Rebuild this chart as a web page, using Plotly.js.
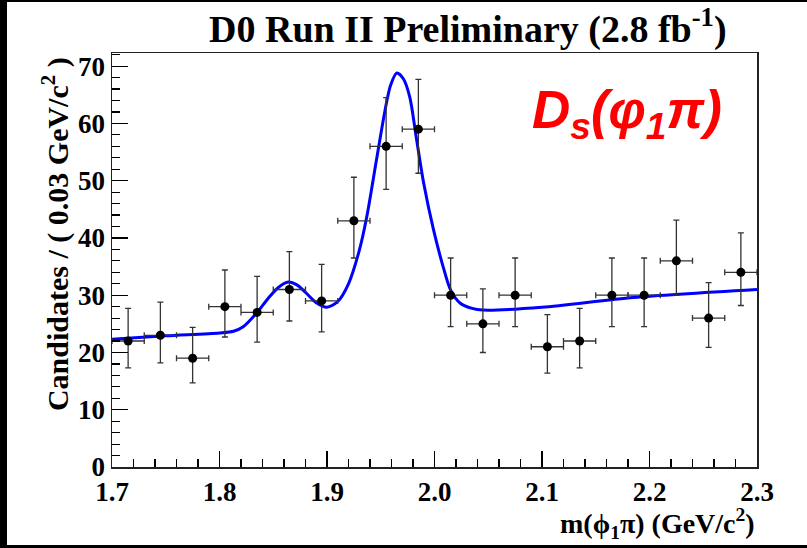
<!DOCTYPE html>
<html>
<head>
<meta charset="utf-8">
<script src="https://cdn.plot.ly/plotly-3.0.1.min.js"></script>
<style>
  html, body { margin: 0; padding: 0; background: #000; width: 807px; height: 548px; overflow: hidden; }
  #chart { position: absolute; left: 7px; top: 2px; width: 800px; height: 543px; background: #fff; }
</style>
</head>
<body>
<div id="chart"></div>
<script>
// Bin centres (GeV/c^2), 0.03 GeV bins
const binCenters = [1.715, 1.745, 1.775, 1.805, 1.835, 1.865, 1.895, 1.925, 1.955, 1.985,
                    2.015, 2.045, 2.075, 2.105, 2.135, 2.165, 2.195, 2.225, 2.255, 2.285];
// Candidates per bin
const counts = [22, 23, 19, 28, 27, 31, 29, 43, 56, 59,
                30, 25, 30, 21, 22, 30, 30, 36, 26, 34];
// Asymmetric (Poisson) errors
const errUp = [5.7, 5.8, 5.4, 6.4, 6.3, 6.6, 6.4, 7.6, 8.5, 8.7,
               6.5, 6.1, 6.5, 5.6, 5.7, 6.5, 6.5, 7.1, 6.2, 6.9];
const errDown = [4.7, 4.8, 4.3, 5.3, 5.2, 5.5, 5.4, 6.5, 7.5, 7.7,
                 5.5, 5.0, 5.5, 4.6, 4.7, 5.5, 5.5, 6.0, 5.1, 5.8];
const binHalfWidth = 0.015;

// Fit curve
const fitX = [1.70, 1.75, 1.80, 1.813, 1.822, 1.835, 1.845, 1.855, 1.864, 1.872, 1.880, 1.890, 1.900,
              1.910, 1.920, 1.930, 1.937, 1.946, 1.954, 1.959, 1.965, 1.971, 1.977, 1.983, 1.990,
              1.999, 2.008, 2.015, 2.024, 2.035, 2.045, 2.10, 2.185, 2.30];
const fitY = [22.3, 22.9, 23.4, 23.7, 24.5, 27.0, 29.4, 31.4, 32.3, 31.8, 30.5, 28.7, 27.9,
              28.9, 32.0, 37.8, 43.7, 53.6, 62.3, 66.6, 68.8, 67.8, 64.6, 57.6, 49.5,
              41.5, 35.0, 30.9, 28.6, 27.7, 27.4, 27.9, 29.6, 31.0];

const xTickVals = [1.7, 1.8, 1.9, 2.0, 2.1, 2.2, 2.3];
const yTickVals = [0, 10, 20, 30, 40, 50, 60, 70];

const serif = '"Liberation Serif", "Times New Roman", serif';

const traces = [
  {
    x: fitX, y: fitY, type: 'scatter', mode: 'lines',
    line: { color: '#0000ff', width: 3, shape: 'spline', smoothing: 0.8 },
    hoverinfo: 'skip', showlegend: false
  },
  {
    x: binCenters, y: counts, type: 'scatter', mode: 'markers',
    marker: { color: '#000', size: 9, symbol: 'circle' },
    error_y: { type: 'data', symmetric: false, array: errUp, arrayminus: errDown,
               color: '#333', thickness: 1.3, width: 3 },
    error_x: { type: 'constant', value: binHalfWidth, color: '#333', thickness: 1.3, width: 3 },
    showlegend: false
  }
];

const layout = {
  width: 800, height: 543,
  margin: { l: 105, r: 50, t: 51, b: 78 },
  paper_bgcolor: '#fff', plot_bgcolor: '#fff',
  showlegend: false,
  title: {
    text: 'D0 Run II Preliminary (2.8 fb<sup>-1</sup>)',
    font: { family: serif, size: 38, color: '#000', weight: 'bold' },
    x: 0.576, xanchor: 'center', xref: 'container',
    y: 0.951, yanchor: 'middle', yref: 'container'
  },
  xaxis: {
    range: [1.7, 2.3],
    tickmode: 'array', tickvals: xTickVals, tickformat: '.1f',
    ticks: 'inside', ticklen: 16, tickwidth: 1.2, tickcolor: '#000',
    minor: { dtick: 0.02, tick0: 1.7, ticks: 'inside', ticklen: 8, tickwidth: 1.2, tickcolor: '#000', showgrid: false },
    showgrid: false, zeroline: false,
    showline: true, linecolor: '#222', linewidth: 1.5, mirror: true,
    tickfont: { family: serif, size: 27, color: '#000', weight: 'bold' }
  },
  yaxis: {
    range: [0, 72.3],
    tickmode: 'array', tickvals: yTickVals,
    ticks: 'inside', ticklen: 16, tickwidth: 1.2, tickcolor: '#000',
    minor: { dtick: 2, tick0: 0, ticks: 'inside', ticklen: 8, tickwidth: 1.2, tickcolor: '#000', showgrid: false },
    showgrid: false, zeroline: false,
    showline: true, linecolor: '#222', linewidth: 1.5, mirror: true,
    tickfont: { family: serif, size: 27, color: '#000', weight: 'bold' }
  },
  annotations: [
    {
      text: 'Candidates / ( 0.03 GeV/c<sup>2</sup> )',
      xref: 'paper', yref: 'paper', x: -0.0884, y: 0.995,
      xanchor: 'center', yanchor: 'top', textangle: -90, showarrow: false,
      font: { family: serif, size: 30, color: '#000', weight: 'bold' }
    },
    {
      text: 'm(ϕ<sub>1</sub>π) (GeV/c<sup>2</sup>)',
      xref: 'paper', yref: 'paper', x: 1.0, y: -0.137,
      xanchor: 'right', yanchor: 'middle', showarrow: false,
      font: { family: serif, size: 28, color: '#000', weight: 'bold' }
    },
    {
      text: '<i>D<sub>s</sub>(φ<sub>1</sub>π)</i>',
      xref: 'paper', yref: 'paper', x: 0.798, y: 0.855,
      xanchor: 'center', yanchor: 'middle', showarrow: false,
      font: { family: '"Liberation Sans", Arial, sans-serif', size: 53, color: '#ff0000', weight: 'bold' }
    }
  ]
};

Plotly.newPlot('chart', traces, layout, { displayModeBar: false, staticPlot: true });
</script>
</body>
</html>
